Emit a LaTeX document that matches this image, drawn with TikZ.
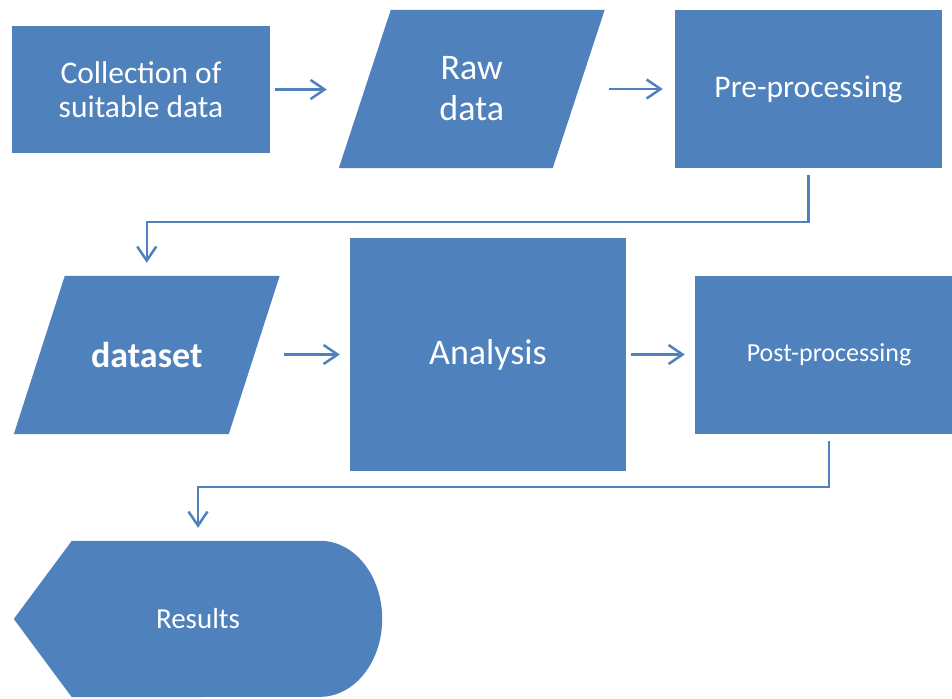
\documentclass[tikz,border=0pt]{standalone}
\usepackage{fontspec}
\setmainfont{Carlito}
\usetikzlibrary{arrows.meta,calc}
\definecolor{fc}{HTML}{4F81BD}
\begin{document}
\begin{tikzpicture}[x=1pt,y=-1pt,
  box/.style={fill=fc,draw=none,inner sep=0pt,text=white,align=center},
  anc/.style={draw=none,inner sep=0pt,text=white,align=center},
  arr/.style={draw=fc,line width=2.5pt,-{Straight Barb[length=14pt,width=19pt,line width=2.5pt]}},
  fA/.style={font=\fontsize{31.5}{34}\selectfont},
  fB/.style={font=\fontsize{36}{41}\selectfont},
  fC/.style={font=\fontsize{26}{30}\selectfont},
  fD/.style={font=\fontsize{29}{33}\selectfont}]
\useasboundingbox (0,0) rectangle (952,698);
% top row
\node[box,fA,minimum width=258pt,minimum height=127pt] (col) at (141,89.5) {Collection of\\suitable data};
\node[anc,fB,minimum width=213.5pt,minimum height=158pt] (raw) at (471.75,89) {};
\fill[fc] ([xshift=26pt]raw.north west) -- ([xshift=26pt]raw.north east) -- ([xshift=-26pt]raw.south east) -- ([xshift=-26pt]raw.south west) -- cycle;
\node[anc,fB] at (raw.center) {Raw\\data};
\node[box,fA,minimum width=267pt,minimum height=158pt] (pre) at (808.5,89) {Pre-processing};
% middle row
\node[anc,minimum width=214.5pt,minimum height=158pt] (ds) at (146.75,355) {};
\fill[fc] ([xshift=25.5pt]ds.north west) -- ([xshift=25.5pt]ds.north east) -- ([xshift=-25.5pt]ds.south east) -- ([xshift=-25.5pt]ds.south west) -- cycle;
\node[anc,fB] at (ds.center) {\bfseries dataset};
\node[box,fB,minimum width=276pt,minimum height=233pt] (ana) at (488,354.5) {Analysis};
\node[box,fC,minimum width=268pt,minimum height=158pt] (post) at (829,355) {Post-processing};
% results
\node[anc,minimum width=368pt,minimum height=156pt] (res) at (198,619) {};
\fill[fc] (res.west) -- ([xshift=58pt]res.north west) -- ([xshift=-62pt]res.north east)
  arc[start angle=90,end angle=-90,x radius=62,y radius=-78] -- ([xshift=58pt]res.south west) -- cycle;
\node[anc,fD] at (res.center) {Results};
% connectors
\coordinate (k1) at (0,222);
\coordinate (k2) at (0,487);
\draw[arr,shorten <=5pt,shorten >=38pt] (col.east) -- (col.east -| raw.west);
\draw[arr,shorten <=30pt,shorten >=12pt] (raw.east) -- (raw.east -| pre.west);
\draw[arr] ([yshift=-7pt]pre.south) -- (pre.south |- k1) -| ([yshift=13pt]ds.north);
\draw[arr,shorten <=30pt,shorten >=10pt] (ds.east |- ana.center) -- (ana.west);
\draw[arr,shorten <=5pt,shorten >=10pt] (ana.east) -- (ana.east -| post.west);
\draw[arr] ([yshift=-7pt]post.south) -- (post.south |- k2) -| ([yshift=13pt]res.north);
\end{tikzpicture}
\end{document}
